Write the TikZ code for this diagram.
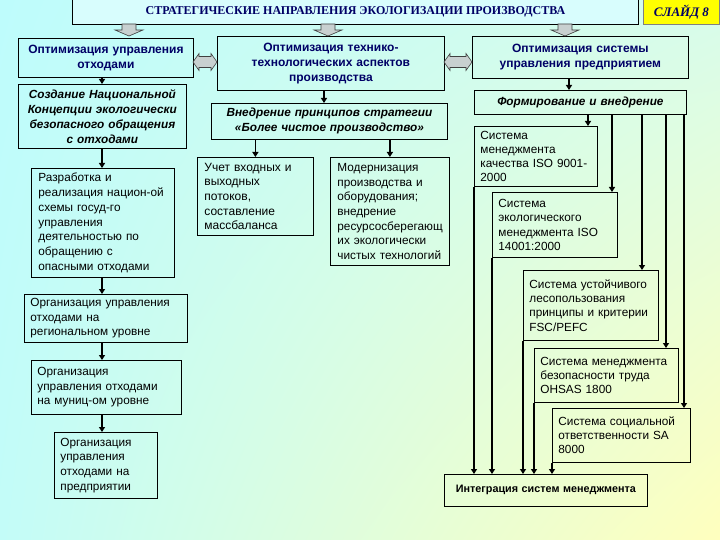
\documentclass[tikz,border=0pt]{standalone}
\usepackage{fontspec}
\setmainfont{Liberation Sans}
\newfontfamily\serifb{Liberation Serif}
\usetikzlibrary{arrows.meta,calc,shadings}
\definecolor{bgc}{RGB}{190,252,252}
\definecolor{bgcr}{RGB}{215,252,235}
\definecolor{bgcl}{RGB}{195,252,248}
\definecolor{bgy}{RGB}{255,255,190}
\definecolor{navy}{RGB}{0,0,102}
\definecolor{blkfill}{RGB}{200,208,208}
\definecolor{slidey}{RGB}{255,255,0}
\tikzset{
  box/.style={draw=black, line width=0.8pt, inner xsep=6pt, inner ysep=0pt, align=left,
    font=\fontsize{11.8}{14.7}\selectfont},
  hdr/.style={align=center, text=navy, font=\bfseries\fontsize{12}{15}\selectfont},
  bit/.style={align=center, font=\bfseries\itshape\fontsize{11.8}{15}\selectfont},
  conn/.style={line width=1.6pt, -{Triangle[length=5pt,width=6pt]}},
  blk/.style={fill=blkfill, draw=black!75, line width=0.6pt},
}
\newcommand\mkbox[7]{%
  \pgfmathsetmacro\bw{#4-#2}\pgfmathsetmacro\bh{#5-#3}\pgfmathsetmacro\tw{#4-#2-12}%
  \node[box,minimum width=\bw pt,minimum height=\bh pt,text width=\tw pt,anchor=north west,#6] (#1) at (#2,#3) {#7};}
\newcommand\dnarrow[2]{%
  \filldraw[blk] (#1-7,#2) -- (#1+7,#2) -- (#1+7,#2+6) -- (#1+14,#2+6) -- (#1,#2+12) -- (#1-14,#2+6) -- (#1-7,#2+6) -- cycle;}
\newcommand\lrarrow[3]{%
  \filldraw[blk] (#1,#3) -- (#1+6,#3-8.5) -- (#1+6,#3-5.5) -- (#2-6,#3-5.5) -- (#2-6,#3-8.5) -- (#2,#3)
   -- (#2-6,#3+8.5) -- (#2-6,#3+5.5) -- (#1+6,#3+5.5) -- (#1+6,#3+8.5) -- cycle;}
\begin{document}
\begin{tikzpicture}[x=1pt,y=-1pt]
\useasboundingbox (0,0) rectangle (720,540);
\shade[upper left=bgc, upper right=bgcr, lower left=bgcl, lower right=bgy] (0,0) rectangle (720,540);

% title and slide label
\node[draw=black, line width=0.8pt, fill=bgc!60!white, minimum width=566pt, minimum height=25pt, anchor=north west,
  text=navy, font=\serifb\bfseries\fontsize{12}{14}\selectfont] (title) at (72,-1) {СТРАТЕГИЧЕСКИЕ НАПРАВЛЕНИЯ ЭКОЛОГИЗАЦИИ ПРОИЗВОДСТВА};
\node[draw=black!50, line width=0.8pt, fill=slidey, minimum width=76pt, minimum height=25pt, anchor=north west,
  text=navy, font=\serifb\bfseries\itshape\fontsize{13}{15}\selectfont] (slide) at (643,-1) {СЛАЙД 8};

% header boxes
\mkbox{h1}{18}{38}{193}{77}{hdr}{Оптимизация управления\\отходами}
\mkbox{h2}{217}{36}{444}{90}{hdr}{Оптимизация технико-\\технологических аспектов\\производства}
\mkbox{h3}{472}{36}{688}{78}{hdr}{Оптимизация системы\\управления предприятием}

% block arrows
\dnarrow{129}{24}
\dnarrow{328}{24}
\dnarrow{565}{24}
\lrarrow{193}{217}{62}
\lrarrow{444}{472}{62}

% left column
\mkbox{l1}{18}{84}{186}{148}{bit}{Создание Национальной\\Концепции экологически\\безопасного обращения\\с отходами}
\mkbox{l2}{31}{168}{172}{277}{inner xsep=7pt}{Разработка и\\реализация национ-ой\\схемы госуд-го\\управления\\деятельностью по\\обращению с\\опасными отходами}
\mkbox{l3}{24}{294}{187}{342}{}{Организация управления\\отходами на\\региональном уровне}
\mkbox{l4}{31}{360}{181}{414}{}{Организация\\управления отходами\\на муниц-ом уровне}
\mkbox{l5}{54}{432}{157}{498}{}{Организация\\управления\\отходами на\\предприятии}

% middle column
\mkbox{m1}{211}{103}{447}{139}{bit}{Внедрение принципов стратегии\\«Более чистое производство»}
\mkbox{m2}{197}{157}{311}{235}{inner xsep=7pt,font=\fontsize{12}{14.6}\selectfont}{Учет входных и\\выходных\\потоков,\\составление\\массбаланса}
\mkbox{m3}{330}{157}{447}{265}{inner xsep=7pt,font=\fontsize{11.8}{14.6}\selectfont}{Модернизация\\производства и\\оборудования;\\внедрение\\ресурсосберегающ\\их экологически\\чистых технологий}

% right column
\mkbox{r0}{474}{90}{686}{114}{bit}{Формирование и внедрение}
\mkbox{r1}{474}{126}{597}{186}{font=\fontsize{11.8}{14.2}\selectfont}{Система\\менеджмента\\качества ISO 9001-\\2000}
\mkbox{r2}{492}{192}{617}{257}{font=\fontsize{11.8}{14.2}\selectfont}{Система\\экологического\\менеджмента ISO\\14001:2000}
\mkbox{r3}{523}{270}{658}{340}{font=\fontsize{11.8}{14.2}\selectfont}{Система устойчивого\\лесопользования\\принципы и критерии\\FSC/PEFC}
\mkbox{r4}{534}{348}{678}{402}{font=\fontsize{11.8}{14.2}\selectfont}{Система менеджмента\\безопасности труда\\OHSAS 1800}
\mkbox{r5}{552}{408}{690}{462}{font=\fontsize{11.8}{14.2}\selectfont}{Система социальной\\ответственности SA\\8000}
\mkbox{integ}{444}{474}{647}{506}{align=center,font=\bfseries\fontsize{10.8}{12}\selectfont}{Интеграция систем менеджмента}

% helper x positions
\coordinate (lx) at (102,0);
\coordinate (mx) at (324,0);
\coordinate (rx) at (569,0);
\coordinate (a1) at (588,0);
\coordinate (a2) at (612,0);
\coordinate (a3) at (642,0);
\coordinate (a4) at (666,0);
\coordinate (a5) at (684,0);

% connectors left
\draw[conn] (h1.south -| lx) -- (l1.north -| lx);
\draw[conn] (l1.south -| lx) -- (l2.north -| lx);
\draw[conn] (l2.south -| lx) -- (l3.north -| lx);
\draw[conn] (l3.south -| lx) -- (l4.north -| lx);
\draw[conn] (l4.south -| lx) -- (l5.north -| lx);
% connectors middle
\draw[conn] (h2.south -| mx) -- (m1.north -| mx);
\draw[conn] (m1.south -| m2.north) -- (m2.north);
\draw[conn] (m1.south -| m3.north) -- (m3.north);
% connectors right
\draw[conn] (h3.south -| rx) -- (r0.north -| rx);
\draw[conn] (r0.south -| a1) -- (r1.north -| a1);
\draw[conn] (r0.south -| a2) -- (r2.north -| a2);
\draw[conn] (r0.south -| a3) -- (r3.north -| a3);
\draw[conn] (r0.south -| a4) -- (r4.north -| a4);
\draw[conn] (r0.south -| a5) -- (r5.north -| a5);
\draw[conn] (r1.south west) -- (r1.south west |- integ.north);
\draw[conn] (r2.south west) -- (r2.south west |- integ.north);
\draw[conn] (r3.south west) -- (r3.south west |- integ.north);
\draw[conn] (r4.south west) -- (r4.south west |- integ.north);
\draw[conn] (r5.south west) -- (r5.south west |- integ.north);
\end{tikzpicture}
\end{document}
